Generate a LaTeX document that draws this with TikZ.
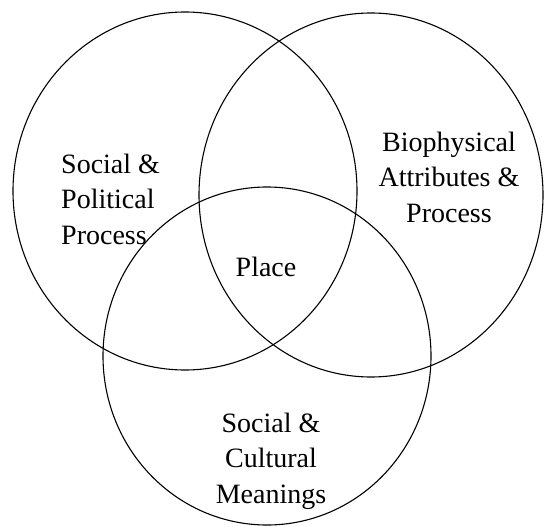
\documentclass[tikz,border=0pt]{standalone}
\usepackage{fontspec}
\setmainfont{Liberation Serif}
\begin{document}
\begin{tikzpicture}[x=1pt,y=-1pt,
  ring/.style={draw=black,line width=1.1pt},
  lbl/.style={inner sep=0pt,font=\fontsize{28}{35.5}\selectfont}]
\useasboundingbox (0,0) rectangle (544,527);
\draw[ring] (185,191) ellipse [x radius=172pt, y radius=179pt];
\draw[ring] (371,195) ellipse [x radius=172pt, y radius=182pt];
\draw[ring] (267,356) ellipse [x radius=164pt, y radius=169pt];
\node[lbl,align=left,anchor=west] (sp) at (61,199) {Social \&\\Political\\Process};
\node[lbl,align=center] (bio) at (449,177) {Biophysical\\Attributes \&\\Process};
\node[lbl] (place) at (266,267) {Place};
\node[lbl,align=center] (scm) at (271,461) {Social \&\\Cultural\\Meanings};
\end{tikzpicture}
\end{document}
